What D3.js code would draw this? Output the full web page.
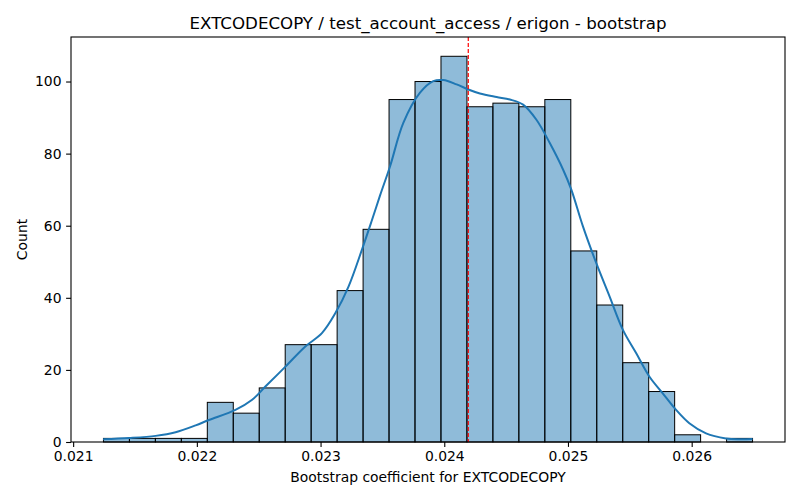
<!DOCTYPE html>
<html>
<head>
<meta charset="utf-8">
<script src="https://cdn.jsdelivr.net/npm/d3@7"></script>
<style>
  body { margin: 0; background: #fff; }
  svg { display: block; font-family: "DejaVu Sans", sans-serif; }
</style>
</head>
<body>
<svg id="chart" width="800" height="500"></svg>
<script>
// ---- data ----
const title = "EXTCODECOPY / test_account_access / erigon - bootstrap";
const xLabel = "Bootstrap coefficient for EXTCODECOPY";
const yLabel = "Count";
const binStart = 0.021245;
const binWidth = 0.00020988;
const binCounts = [1, 1, 1, 1, 11, 8, 15, 27, 27, 42, 59, 95, 100, 107, 93, 94, 93, 95, 53, 38, 22, 14, 2, 0, 1];
const kdeX = [0.021242, 0.021452, 0.021667, 0.021828, 0.021990, 0.022097, 0.022312, 0.022447, 0.022554, 0.022716,
  0.022877, 0.023011, 0.023119, 0.023226, 0.023334, 0.023415, 0.023481, 0.023562, 0.023669, 0.023804,
  0.023911, 0.023992, 0.024100, 0.024194, 0.024288, 0.024423, 0.024530, 0.024637, 0.024745, 0.024852,
  0.024960, 0.025027, 0.025121, 0.025229, 0.025336, 0.025444, 0.025552, 0.025659, 0.025766, 0.025874,
  0.025981, 0.026116, 0.026277, 0.026385, 0.026492];
const kdeY = [0.75, 1.1, 1.7, 2.7, 4.6, 6.1, 8.9, 11.7, 15.4, 20.9,
  26.5, 30.2, 35.7, 43.1, 53.3, 61.5, 68.4, 76.5, 88.5, 96.9,
  100.1, 100.4, 99.2, 97.8, 96.7, 95.7, 95.0, 93.6, 89.4, 83.0,
  75.6, 70.0, 59.8, 49.6, 40.4, 31.1, 24.6, 18.1, 13.5, 8.9,
  5.2, 2.4, 1.0, 0.75, 0.8];
const refLine = 0.024194;
const xTicks = [0.021, 0.022, 0.023, 0.024, 0.025, 0.026];
const yTicks = [0, 20, 40, 60, 80, 100];

// ---- layout ----
const svg = d3.select("#chart");
const m = { left: 71, right: 785, top: 37, bottom: 442 };
const binEdges = binCounts.map((_, i) => binStart + i * binWidth);
const xMin = binStart, xMax = binStart + binCounts.length * binWidth;
const pad = (xMax - xMin) * 0.05;
const x = d3.scaleLinear().domain([xMin - pad, xMax + pad]).range([m.left, m.right]);
const yMax = d3.max(binCounts) * 1.05;
const y = d3.scaleLinear().domain([0, yMax]).range([m.bottom, m.top]);

// bars
svg.append("g").selectAll("rect").data(binCounts).join("rect")
  .attr("x", (d, i) => x(binEdges[i]))
  .attr("width", (d, i) => x(binEdges[i] + binWidth) - x(binEdges[i]))
  .attr("y", d => y(d))
  .attr("height", d => y(0) - y(d))
  .attr("fill", "#1f77b4").attr("fill-opacity", 0.5)
  .attr("stroke", "#000").attr("stroke-width", 1)
  .style("display", d => d > 0 ? null : "none");

// kde
const pts = kdeX.map((v, i) => [v, kdeY[i]]);
svg.append("path").datum(pts)
  .attr("d", d3.line().x(d => x(d[0])).y(d => y(d[1])).curve(d3.curveCatmullRom.alpha(0.5)))
  .attr("fill", "none").attr("stroke", "#1f77b4").attr("stroke-width", 2);

// reference line
svg.append("line")
  .attr("x1", x(refLine)).attr("x2", x(refLine))
  .attr("y1", m.top).attr("y2", m.bottom)
  .attr("stroke", "red").attr("stroke-width", 1.2).attr("stroke-dasharray", "4,2");

// axes
const xAxis = d3.axisBottom(x).tickValues(xTicks).tickFormat(d3.format(".3f")).tickSizeOuter(0).tickSize(4.9).tickPadding(4.6);
const gx = svg.append("g").attr("transform", `translate(0,${m.bottom})`).call(xAxis);
const yAxis = d3.axisLeft(y).tickValues(yTicks).tickSizeOuter(0).tickSize(4.9).tickPadding(4.6);
const gy = svg.append("g").attr("transform", `translate(${m.left},0)`).call(yAxis);
[gx, gy].forEach(g => {
  g.select(".domain").remove();
  g.selectAll("text").attr("font-size", 13.9).attr("fill", "#000").attr("font-family", "DejaVu Sans");
  g.selectAll("line").attr("stroke", "#000").attr("stroke-width", 1.1);
});

// frame
svg.append("rect").attr("x", m.left).attr("y", m.top)
  .attr("width", m.right - m.left).attr("height", m.bottom - m.top)
  .attr("fill", "none").attr("stroke", "#000").attr("stroke-width", 1.1);

// labels
svg.append("text").attr("x", (m.left + m.right) / 2).attr("y", 29)
  .attr("text-anchor", "middle").attr("font-size", 16.67).text(title);
svg.append("text").attr("x", (m.left + m.right) / 2).attr("y", 482)
  .attr("text-anchor", "middle").attr("font-size", 13.9).text(xLabel);
svg.append("text").attr("transform", `translate(27,${(m.top + m.bottom) / 2}) rotate(-90)`)
  .attr("text-anchor", "middle").attr("font-size", 13.9).text(yLabel);
</script>
</body>
</html>
